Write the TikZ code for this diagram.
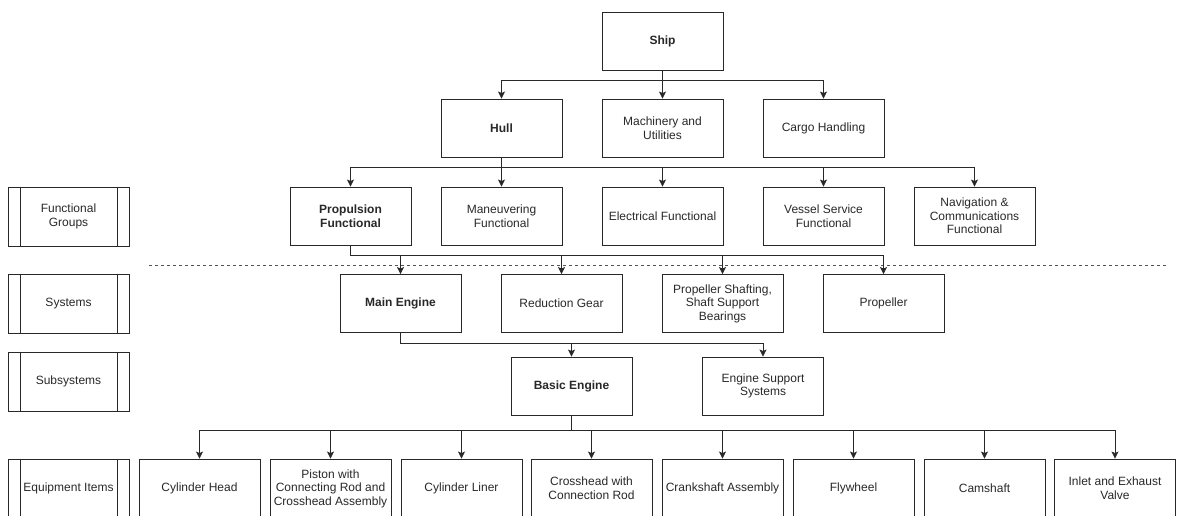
\documentclass[tikz,border=0pt]{standalone}
\usepackage{fontspec}
\setmainfont{Liberation Sans}
\usetikzlibrary{arrows.meta}
\definecolor{ink}{RGB}{40,40,40}
\begin{document}
\begin{tikzpicture}[x=1pt,y=-1pt,
  every node/.style={text=ink},
  box/.style={draw=ink, line width=0.9pt, minimum width=121pt, minimum height=58pt,
    inner sep=1pt, align=center, font=\fontsize{12}{13.6}\selectfont},
  bbox/.style={box, font=\fontsize{12}{13.6}\selectfont\bfseries},
  tierbox/.style={box, minimum height=59pt},
  link/.style={draw=ink, line width=0.8pt, -{Stealth[length=7pt,width=7pt,inset=1.5pt]}},
  divider/.style={draw=ink!80, line width=0.8pt, dash pattern=on 3pt off 3pt}]
\useasboundingbox (0,0) rectangle (1177,516);
\clip (0,0) rectangle (1177,516);

% tier labels on the left
\node[tierbox] (tFG)  at (68.5,216.5) {Functional\\Groups};
\node[tierbox] (tSYS) at (68.5,303.5) {Systems};
\node[tierbox] (tSUB) at (68.5,381.5) {Subsystems};
\node[tierbox] (tEQ)  at (68.5,488.5) {Equipment Items};
\foreach \n in {tFG,tSYS,tSUB,tEQ}{
  \draw[draw=ink, line width=0.9pt] ([xshift=13pt]\n.north west) -- ([xshift=13pt]\n.south west);
  \draw[draw=ink, line width=0.9pt] ([xshift=-12pt]\n.north east) -- ([xshift=-12pt]\n.south east);
}

% top of the breakdown
\node[bbox] (ship)  at (662.5,41)  {Ship};
\node[bbox] (hull)  at (501.5,128) {Hull};
\node[box]  (mach)  at (662.5,128) {Machinery and\\Utilities};
\node[box]  (cargo) at (823.5,128) {Cargo Handling};

% functional groups
\node[bbox] (prop) at (350.5,216) {Propulsion\\Functional};
\node[box]  (man)  at (501.5,216) {Maneuvering\\Functional};
\node[box]  (elec) at (662.5,216) {Electrical Functional};
\node[box]  (ves)  at (823.5,216) {Vessel Service\\Functional};
\node[box]  (nav)  at (974.5,216) {Navigation \&\\Communications\\Functional};

% separator between functional groups and systems
\coordinate (dl) at (149,265);
\coordinate (dr) at (1168,265);
\draw[divider] (dl) -- (dr);

% systems
\node[bbox] (me) at (400.5,303.5) {Main Engine};
\node[box]  (rg) at (561.5,303.5) {Reduction Gear};
\node[box]  (ps) at (722.5,303.5) {Propeller Shafting,\\Shaft Support\\Bearings};
\node[box]  (pr) at (883.5,303.5) {Propeller};

% subsystems
\node[bbox] (be)  at (571.5,386) {Basic Engine};
\node[box]  (ess) at (763,386)   {Engine Support\\Systems};

% equipment items
\node[tierbox] (e1) at (199.5,488.5)  {Cylinder Head};
\node[tierbox] (e2) at (330.5,488.5)  {Piston with\\Connecting Rod and\\Crosshead Assembly};
\node[tierbox] (e3) at (461.5,488.5)  {Cylinder Liner};
\node[tierbox] (e4) at (591.5,488.5)  {Crosshead with\\Connection Rod};
\node[tierbox] (e5) at (722.5,488.5)  {Crankshaft Assembly};
\node[tierbox] (e6) at (853.5,488.5)  {Flywheel};
\node[tierbox] (e7) at (984.5,488.5)  {Camshaft};
\node[tierbox] (e8) at (1115,488.5)   {Inlet and Exhaust\\Valve};

% bus junctions
\coordinate (b1) at (662.5,80);
\coordinate (b2) at (501.5,167);
\coordinate (b3) at (350.5,255);
\coordinate (b4) at (400.5,343);
\coordinate (b5) at (571.5,430);

% connectors
\foreach \c in {hull,mach,cargo}
  \draw[link] (ship.south) -- (b1) -| (\c.north);
\foreach \c in {prop,man,elec,ves,nav}
  \draw[link] (hull.south) -- (b2) -| (\c.north);
\foreach \c in {me,rg,ps,pr}
  \draw[link] (prop.south) -- (b3) -| (\c.north);
\foreach \c in {be,ess}
  \draw[link] (me.south) -- (b4) -| (\c.north);
\foreach \c in {e1,e2,e3,e4,e5,e6,e7,e8}
  \draw[link] (be.south) -- (b5) -| (\c.north);
\end{tikzpicture}
\end{document}
